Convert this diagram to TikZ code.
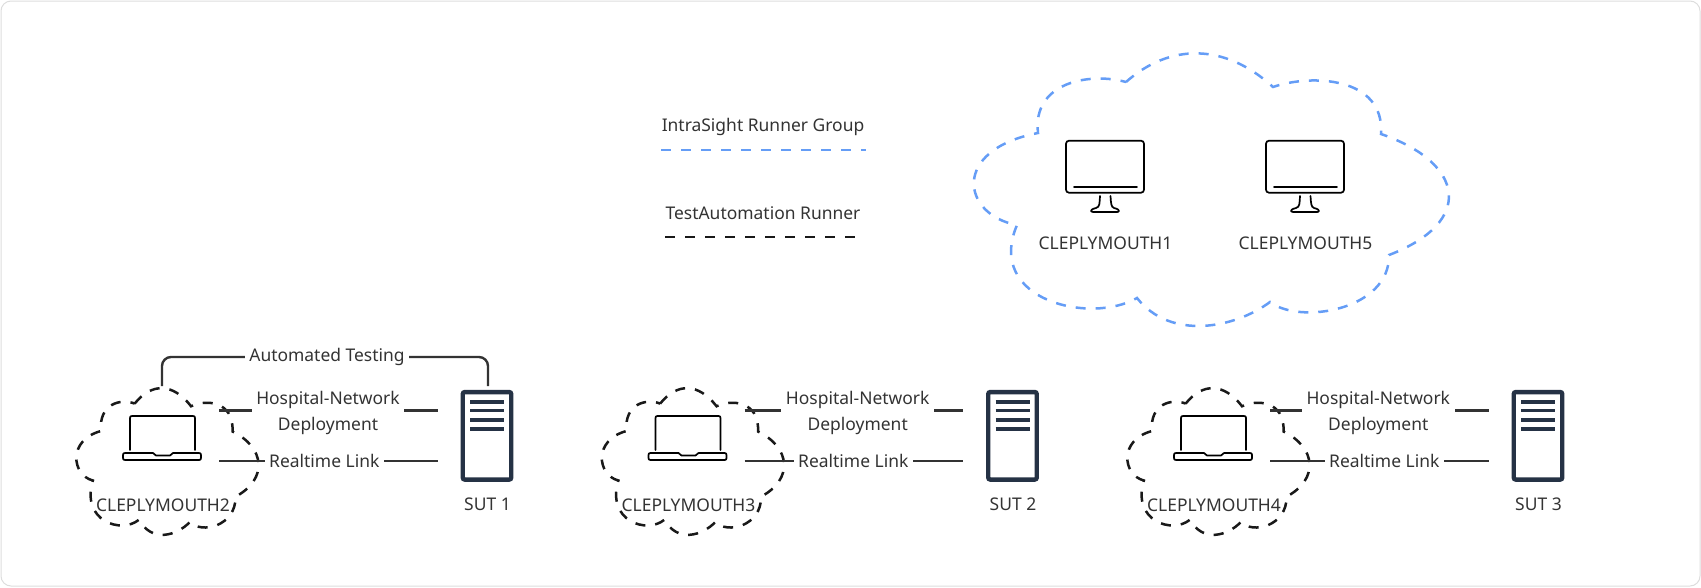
\documentclass[tikz,border=0pt]{standalone}
\usepackage{fontspec}
\setmainfont{Noto Sans}
\definecolor{bluedash}{HTML}{659DF6}
\definecolor{serverc}{HTML}{253245}
\definecolor{inkc}{HTML}{333333}
\definecolor{framec}{HTML}{DDDDDD}
\tikzset{
  lab/.style={text=inkc,font=\fontsize{17.45}{26}\selectfont,inner sep=0pt,align=center},
  linklab/.style={lab,fill=white,inner xsep=4.5pt,inner ysep=0pt},
  linkline/.style={draw=inkc,line width=2.4pt},
  dashbase/.style={line width=2.5pt,dash pattern=on 10pt off 10pt},
  bluedashed/.style={dashbase,draw=bluedash},
  blackdashed/.style={dashbase,draw=black!90},
  iconline/.style={draw=black,line width=1.7pt,line join=round,line cap=round},
  hostbox/.style={draw=serverc,line width=4.4pt,rounded corners=2pt,fill=white,minimum width=48.5pt,minimum height=87.5pt,inner sep=0pt},
  stripe/.style={draw=serverc,line width=3.7pt},
  ghost/.style={inner sep=0pt,draw=none}
}
\newcommand{\cloudshape}{(1126,82) .. controls (1170,43) and (1225,43) .. (1273,87)
  .. controls (1310,74) and (1385,76) .. (1381,134)
  .. controls (1465,163) and (1475,222) .. (1389,255)
  .. controls (1390,310) and (1300,325) .. (1270,302)
  .. controls (1235,328) and (1171,341) .. (1137,298)
  .. controls (1090,325) and (985,300) .. (1017,225)
  .. controls (962,215) and (950,150) .. (1038,133)
  .. controls (1032,82) and (1090,72) .. (1126,82) -- cycle}
\begin{document}
\begin{tikzpicture}[x=1pt,y=-1pt]
\useasboundingbox (0,0) rectangle (1701,587);
\draw[framec,line width=1pt,rounded corners=10pt] (1,1) rectangle (1700,586);

% legend
\node[lab] (legendblue) at (763,126.5) {IntraSight Runner Group};
\coordinate (bluea) at (661,150); \coordinate (blueb) at (866,150);
\draw[bluedashed] (bluea) -- (blueb);
\node[lab] (legendblack) at (763,213) {TestAutomation Runner};
\coordinate (blacka) at (665,237); \coordinate (blackb) at (856,237);
\draw[blackdashed] (blacka) -- (blackb);

% big cloud
\draw[bluedashed] \cloudshape;
\foreach \m/\off/\nm in {1/0/CLEPLYMOUTH1,5/200/CLEPLYMOUTH5}{
  \begin{scope}[shift={(\off,0)}]
    \node[ghost,draw=black,line width=1.7pt,rounded corners=3pt,minimum width=78pt,minimum height=52pt] (mon\m) at (1105,166.7) {};
    \draw[iconline] (1074,187) -- (1137,187);
    \draw[iconline] (1100,196) .. controls (1099.5,203) and (1100,207) .. (1096,208) .. controls (1092,209) and (1091,210) .. (1091,211)
      .. controls (1091,212) and (1093,212) .. (1095,212) -- (1115,212) .. controls (1118,212) and (1119,212) .. (1119,211)
      .. controls (1119,210) and (1118,209) .. (1114,208) .. controls (1111,207) and (1111,203) .. (1110.5,196);
    \node[lab] (name\m) at (1105.5,243) {\nm};
  \end{scope}
}

% test groups
\foreach \g/\off/\hx/\rx/\nm/\su in {
  1/0/328/324.3/CLEPLYMOUTH2/SUT 1,
  2/525.5/857.7/853.3/CLEPLYMOUTH3/SUT 2,
  3/1051/1378.3/1384.3/CLEPLYMOUTH4/SUT 3}{
  \begin{scope}[shift={({-297.24+\off},359.46)},xscale=.3836,yscale=.538]
    \draw[blackdashed] \cloudshape;
  \end{scope}
  \begin{scope}[shift={(\off,0)}]
    \node[ghost,minimum width=78pt,minimum height=44pt] (lap\g) at (162,438) {};
    \draw[iconline] (130,450) -- (130,418) .. controls (130,416.5) and (130.5,416) .. (132,416) -- (193,416) .. controls (194.5,416) and (195,416.5) .. (195,418) -- (195,450);
    \draw[iconline] (125,453) -- (153,453) -- (156,455.5) -- (170,455.5) -- (173,453) -- (199,453)
      .. controls (200.5,453) and (201,453.5) .. (201,455) -- (201,458) .. controls (201,459.5) and (200.5,460) .. (199,460)
      -- (125,460) .. controls (123.5,460) and (123,459.5) .. (123,458) -- (123,455) .. controls (123,453.5) and (123.5,453) .. (125,453) -- cycle;
    \node[lab] (cname\g) at (163,505) {\nm};
    \node[hostbox] (sut\g) at (487,435.8) {};
    \foreach \yy in {401.7,410.6,419.7,428.7}{
      \draw[stripe] (470,\yy) -- (504.3,\yy);
    }
    \node[lab] (sname\g) at (487.5,504.5) {\su};
    \coordinate (ha\g) at (219,410.5);
    \coordinate (hb\g) at (437.7,410.5);
    \coordinate (ra\g) at (219,461);
    \coordinate (rb\g) at (437.7,461);
    \draw[linkline] (ha\g) -- (hb\g);
    \draw[linkline] (ra\g) -- (rb\g);
  \end{scope}
  \node[linklab] (hosp\g) at (\hx,412.5) {Hospital-Network\\Deployment};
  \node[linklab] (real\g) at (\rx,461) {Realtime Link};
}

% automated testing
\coordinate (autoa) at (162,386);
\coordinate (autob) at (488,386);
\draw[linkline,rounded corners=9pt] (autoa) -- (162,357) -- (488,357) -- (autob);
\node[linklab] (auto) at (327,357) {Automated Testing};
\end{tikzpicture}
\end{document}
